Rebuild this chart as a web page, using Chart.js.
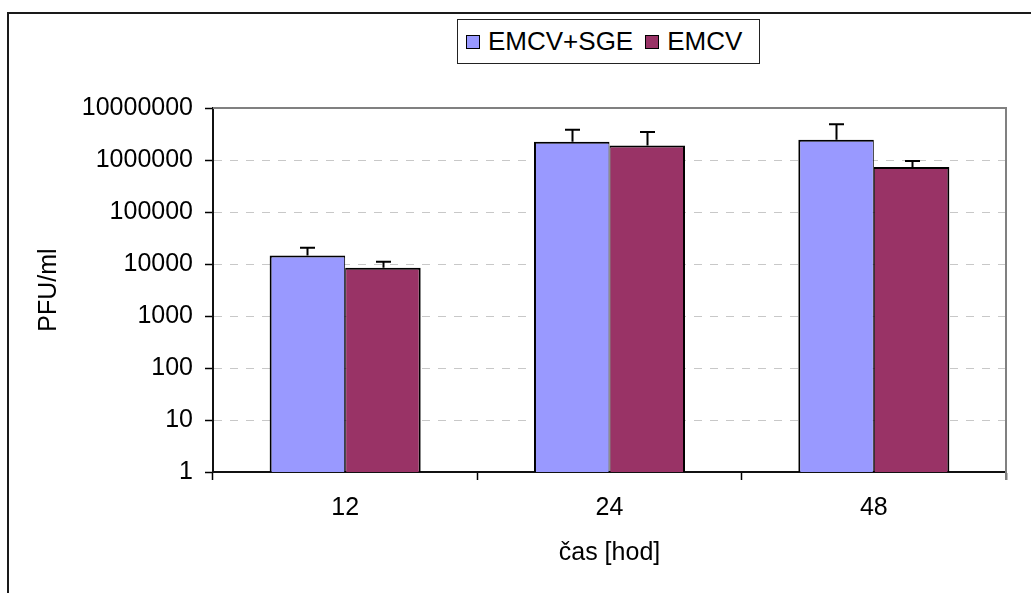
<!DOCTYPE html>
<html>
<head>
<meta charset="utf-8">
<script src="https://cdn.jsdelivr.net/npm/chart.js@4/dist/chart.umd.min.js"></script>
<style>
  html, body { margin: 0; padding: 0; background: #fff; overflow: hidden; }
  body { width: 1031px; height: 593px; position: relative; font-family: "Liberation Sans", Arial, sans-serif; }
  #frame { position: absolute; left: 7px; top: 12px; width: 1100px; height: 700px; border: 2px solid #1a1a1a; box-sizing: border-box; }
  #chart { position: absolute; left: 0; top: 0; }
  #legend { position: absolute; left: 457px; top: 19px; width: 303px; height: 45px; box-sizing: border-box;
            border: 1.5px solid #222; background: #fff; display: flex; align-items: center; justify-content: flex-start;
            padding-left: 8px; font-size: 26px; color: #000; white-space: nowrap; }
  #legend .item { display: flex; align-items: center; margin-right: 12px; }
  #legend .sw { width: 12px; height: 12px; border: 1.5px solid #000; margin-right: 8px; }
</style>
</head>
<body>
<div id="frame"></div>
<canvas id="chart" width="1031" height="593"></canvas>
<div id="legend"></div>
<script>
// time points (hours)
const categories = ['12', '24', '48'];

// series names and colours
const seriesNames = ['EMCV+SGE', 'EMCV'];
const seriesColors = ['#9999FF', '#993366'];

// virus titres, PFU/ml
const sgeValues  = [14500, 2250000, 2450000];
const emcvValues = [8500, 1900000, 730000];

// upper error (added to the mean)
const sgeErrors  = [6000, 1550000, 2400000];
const emcvErrors = [2600, 1550000, 230000];

// y-axis decades and their labels
const yTickValues = [1, 10, 100, 1000, 10000, 100000, 1000000, 10000000];
const yTickLabels = ['1', '10', '100', '1000', '10000', '100000', '1000000', '10000000'];

const FONT = "'Liberation Sans', Arial, sans-serif";

// legend
const legendEl = document.getElementById('legend');
seriesNames.forEach((name, i) => {
  const item = document.createElement('div');
  item.className = 'item';
  const sw = document.createElement('span');
  sw.className = 'sw';
  sw.style.background = seriesColors[i];
  const tx = document.createElement('span');
  tx.textContent = name;
  item.appendChild(sw);
  item.appendChild(tx);
  legendEl.appendChild(item);
});

// upward error bars with caps
const errorBars = {
  id: 'errorBars',
  afterDatasetsDraw(chart) {
    const ctx = chart.ctx;
    const yScale = chart.scales.y;
    ctx.save();
    ctx.strokeStyle = '#000';
    ctx.lineWidth = 2;
    chart.data.datasets.forEach((ds, di) => {
      const meta = chart.getDatasetMeta(di);
      meta.data.forEach((bar, i) => {
        const top = yScale.getPixelForValue(ds.data[i] + ds.errors[i]);
        const x = Math.round(bar.x) + 0.5;
        ctx.beginPath();
        ctx.moveTo(x, bar.y);
        ctx.lineTo(x, top);
        ctx.moveTo(x - 7.5, top);
        ctx.lineTo(x + 7.5, top);
        ctx.stroke();
      });
    });
    ctx.restore();
  }
};

// grey plot-area frame on top and right
const plotFrame = {
  id: 'plotFrame',
  beforeDatasetsDraw(chart) {
    const {ctx, chartArea: a} = chart;
    ctx.save();
    ctx.strokeStyle = '#808080';
    ctx.lineWidth = 2;
    ctx.beginPath();
    ctx.moveTo(a.left, a.top);
    ctx.lineTo(a.right, a.top);
    ctx.lineTo(a.right, a.bottom + 8);
    ctx.stroke();
    ctx.restore();
  }
};

new Chart(document.getElementById('chart'), {
  type: 'bar',
  data: {
    labels: categories,
    datasets: [
      {
        label: seriesNames[0],
        data: sgeValues,
        errors: sgeErrors,
        backgroundColor: seriesColors[0],
        borderColor: '#000',
        borderWidth: {left: 2, right: 1, top: 2, bottom: 0},
        borderSkipped: false
      },
      {
        label: seriesNames[1],
        data: emcvValues,
        errors: emcvErrors,
        backgroundColor: seriesColors[1],
        borderColor: '#000',
        borderWidth: {left: 1, right: 2, top: 2, bottom: 0},
        borderSkipped: false
      }
    ]
  },
  options: {
    responsive: false,
    animation: false,
    devicePixelRatio: 1,
    layout: { padding: { left: 0, top: 108, right: 25, bottom: 0 } },
    datasets: { bar: { categoryPercentage: 1 / 1.75, barPercentage: 1 } },
    plugins: {
      legend: { display: false },
      tooltip: { enabled: false },
      title: { display: false }
    },
    scales: {
      x: {
        grid: {
          display: true,
          offset: true,
          drawOnChartArea: false,
          drawTicks: true,
          tickLength: 8,
          tickColor: '#000',
          tickWidth: 1.5,
          color: '#000'
        },
        border: { display: true, color: '#111', width: 2 },
        ticks: {
          color: '#000',
          padding: 13,
          font: { family: FONT, size: 25 }
        },
        title: {
          display: true,
          text: 'čas [hod]',
          color: '#000',
          font: { family: FONT, size: 25 },
          padding: { top: 0, bottom: 25 }
        },
        afterFit(scale) { scale.height = 121; }
      },
      y: {
        type: 'logarithmic',
        min: 1,
        max: 10000000,
        afterBuildTicks(scale) {
          scale.ticks = yTickValues.map(v => ({ value: v }));
        },
        grid: {
          display: true,
          drawOnChartArea: true,
          drawTicks: true,
          tickLength: 8,
          color: '#c8c8c8',
          lineWidth: 1,
          borderDash: [8, 8],
          tickColor: '#000',
          tickWidth: 1.5,
          tickBorderDash: []
        },
        border: { display: true, color: '#111', width: 2, dash: [8, 8] },
        ticks: {
          color: '#000',
          padding: 12,
          autoSkip: false,
          font: { family: FONT, size: 25 },
          callback: (value, index) => yTickLabels[index]
        },
        title: {
          display: true,
          text: 'PFU/ml',
          color: '#000',
          font: { family: FONT, size: 25 },
          padding: { top: 34, bottom: 0 }
        },
        afterFit(scale) { scale.width = 213; }
      }
    }
  },
  plugins: [plotFrame, errorBars]
});
</script>
</body>
</html>
